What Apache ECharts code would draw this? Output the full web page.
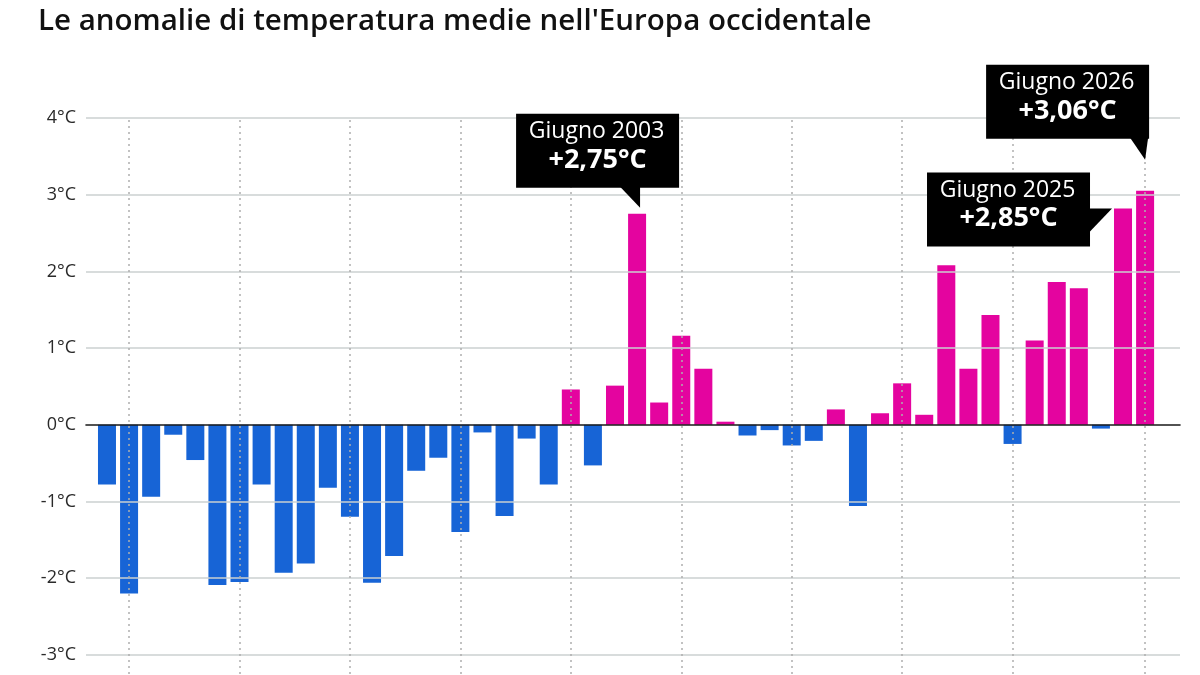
<!DOCTYPE html>
<html><head><meta charset="utf-8">
<script src="https://cdn.jsdelivr.net/npm/echarts@6/dist/echarts.min.js"></script>
<style>html,body{margin:0;padding:0;background:#fff}#c{width:1200px;height:675px}</style>
</head><body><div id="c"></div>
<script>
const chartTitle = "Le anomalie di temperatura medie nell'Europa occidentale";
const years = [1979,1980,1981,1982,1983,1984,1985,1986,1987,1988,1989,1990,1991,1992,1993,1994,1995,1996,1997,1998,1999,2000,2001,2002,2003,2004,2005,2006,2007,2008,2009,2010,2011,2012,2013,2014,2015,2016,2017,2018,2019,2020,2021,2022,2023,2024,2025,2026];
const anomalies = [-0.78,-2.20,-0.94,-0.13,-0.46,-2.09,-2.05,-0.78,-1.93,-1.81,-0.82,-1.20,-2.06,-1.71,-0.60,-0.43,-1.40,-0.10,-1.19,-0.18,-0.78,0.46,-0.53,0.51,2.75,0.29,1.16,0.73,0.04,-0.14,-0.07,-0.27,-0.21,0.20,-1.06,0.15,0.54,0.13,2.08,0.73,1.43,-0.25,1.10,1.86,1.78,-0.05,2.82,3.05];
const yTicks = [-3,-2,-1,0,1,2,3,4];
const markedYears = [1980,1985,1990,1995,2000,2005,2010,2015,2020,2026];
const annoYears = [2003, 2025, 2026];
const annoLine1 = ['Giugno 2003','Giugno 2025','Giugno 2026'];
const annoLine2 = ['+2,75°C','+2,85°C','+3,06°C'];

// styling / layout of callouts (pixel offsets relative to the bar top)
const BOX_W = 163, BOX_H = 74;
const annoLayout = {
  2003: {box:[-121,-100], ptr:[[-17,-27],[3,-27],[3,-6]]},
  2025: {box:[-196,-36], ptr:[[-33,0],[-11,0],[-33,23]]},
  2026: {box:[-159,-126], ptr:[[-15,-53],[3,-53],[0,-31]]}
};
const FONT = '"Open Sans", "Noto Sans", sans-serif';
const PINK = '#e4049f', BLUE = '#1764d6';

const chart = echarts.init(document.getElementById('c'), null, {renderer:'canvas'});
const valueOf = y => anomalies[years.indexOf(y)];

const option = {
  animation: false,
  backgroundColor: '#fff',
  title: {
    text: chartTitle, left: 33, top: 2,
    textStyle: {fontFamily: FONT, fontSize: 29.5, fontWeight: 600, color: '#111'}
  },
  grid: {left: 86, right: 20, top: 118, bottom: 1, containLabel: false},
  xAxis: {
    type: 'value', min: 1978.05, max: 2027.58,
    axisLine: {show: true, onZero: true, lineStyle: {color: '#1a1a1a', width: 1.6}},
    axisTick: {show: false}, axisLabel: {show: false}, splitLine: {show: false}, z: 3
  },
  yAxis: {
    type: 'value', min: -3.25, max: 4, interval: 0.25,
    axisLine: {show: false}, axisTick: {show: false}, splitLine: {show: false},
    axisLabel: {
      margin: 10, color: '#2a2a2a', fontFamily: FONT, fontSize: 18,
      formatter: v => {
        const r = Math.round(v * 100) / 100;
        return yTicks.indexOf(r) >= 0 ? r + '°C' : '';
      }
    }
  },
  series: [
    {
      type: 'line', data: [], z: 1, silent: true,
      markLine: {
        silent: true, symbol: 'none', animation: false,
        label: {show: false},
        lineStyle: {color: '#cbd1d1', width: 1.5, type: 'solid'},
        data: yTicks.filter(v => v !== 0).map(v => ({yAxis: v}))
          .concat(markedYears.map(y => ({xAxis: y, lineStyle: {type: [2, 4], color: '#aeaeae', width: 1.5}})))
      }
    },
    {
      type: 'bar', z: 2, barWidth: 18,
      data: years.map((y, i) => [y, anomalies[i]]),
      itemStyle: {color: p => p.value[1] >= 0 ? PINK : BLUE}
    },
    {
      type: 'custom', z: 5, silent: true,
      data: annoYears.map((y, i) => [y, valueOf(y), i]),
      renderItem: (params, api) => {
        const i = api.value(2);
        const yr = annoYears[i];
        const L = annoLayout[yr];
        const pt = api.coord([api.value(0), api.value(1)]);
        const bx = pt[0] + L.box[0], by = pt[1] + L.box[1];
        return {
          type: 'group',
          children: [
            {type: 'rect', shape: {x: bx, y: by, width: BOX_W, height: BOX_H}, style: {fill: '#000'}},
            {type: 'polygon', shape: {points: L.ptr.map(p => [pt[0] + p[0], pt[1] + p[1]])}, style: {fill: '#000'}},
            {type: 'text', style: {text: annoLine1[i], x: bx + BOX_W / 2 - 1, y: by + 18, align: 'center', verticalAlign: 'middle', fill: '#fff', fontFamily: FONT, fontSize: 23, fontWeight: 400}},
            {type: 'text', style: {text: annoLine2[i], x: bx + BOX_W / 2, y: by + 46, align: 'center', verticalAlign: 'middle', fill: '#fff', fontFamily: FONT, fontSize: 27, fontWeight: 700}}
          ]
        };
      }
    }
  ]
};
chart.setOption(option);
</script>
</body></html>
